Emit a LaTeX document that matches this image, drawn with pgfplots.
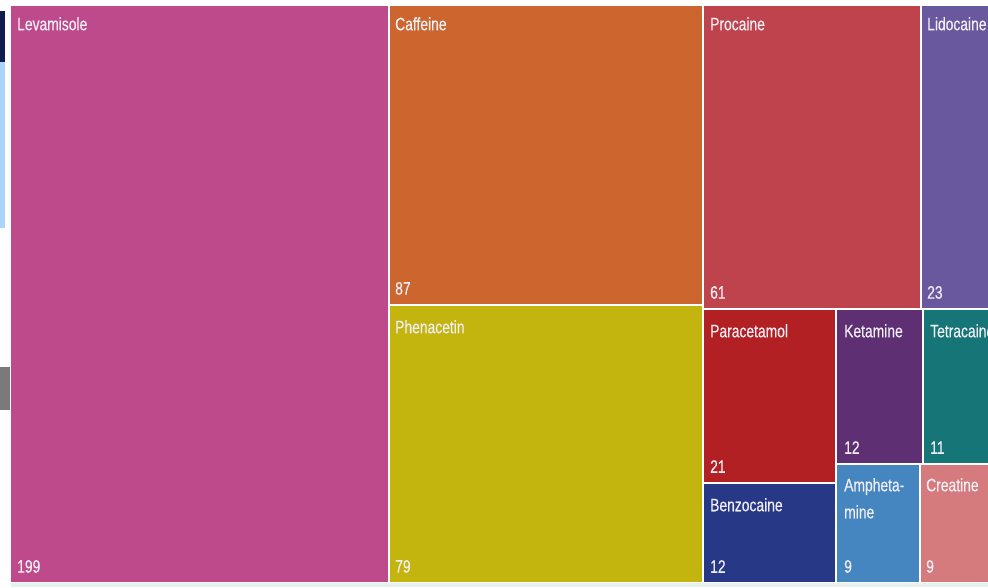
\documentclass[border=0pt]{standalone}
\usepackage{pgfplots}
\pgfplotsset{compat=1.18}
\usepackage{fontspec}
\setmainfont{Liberation Sans}[FakeStretch=0.77,FakeBold=0.4]
\definecolor{cLev}{RGB}{190,74,140}
\definecolor{cCaf}{RGB}{204,102,46}
\definecolor{cPhe}{RGB}{196,180,14}
\definecolor{cPro}{RGB}{191,67,77}
\definecolor{cLid}{RGB}{106,88,158}
\definecolor{cPar}{RGB}{178,32,36}
\definecolor{cBen}{RGB}{39,56,134}
\definecolor{cKet}{RGB}{94,48,115}
\definecolor{cTet}{RGB}{21,117,119}
\definecolor{cAmp}{RGB}{69,133,192}
\definecolor{cCre}{RGB}{213,123,126}
\definecolor{txt}{RGB}{240,238,245}
\definecolor{uiNavy}{RGB}{16,28,78}
\definecolor{uiBlue}{RGB}{170,212,248}
\definecolor{uiGray}{RGB}{122,122,122}
\definecolor{uiStrip}{RGB}{232,240,240}
\tikzset{lbl/.style={font=\fontsize{18}{27}\selectfont, text=txt, inner sep=0pt, align=left}}
\begin{document}
\begin{tikzpicture}
\path[use as bounding box] (0,0) rectangle (988pt,587pt);
\begin{axis}[
  at={(0,0)}, anchor=south west,
  scale only axis, width=988pt, height=587pt,
  xmin=0, xmax=988, ymin=0, ymax=587, y dir=reverse,
  hide axis, clip=false,
  every axis plot/.append style={draw=none},
]
% UI remnants at left edge
\addplot[fill=uiNavy] coordinates {(0,11) (5,11) (5,62) (0,62)} --cycle;
\addplot[fill=uiBlue] coordinates {(0,62) (5,62) (5,228) (0,228)} --cycle;
\addplot[fill=uiGray] coordinates {(0,367) (10,367) (10,410) (0,410)} --cycle;
\addplot[fill=uiStrip] coordinates {(11,583) (988,583) (988,587) (11,587)} --cycle;
% treemap tiles: (x0,y0) (x1,y0) (x1,y1) (x0,y1)
\addplot[fill=cLev] coordinates {(11,6) (388,6) (388,582) (11,582)} --cycle;   % Levamisole 199
\addplot[fill=cCaf] coordinates {(390,6) (702,6) (702,304) (390,304)} --cycle; % Caffeine 87
\addplot[fill=cPhe] coordinates {(390,306) (702,306) (702,582) (390,582)} --cycle; % Phenacetin 79
\addplot[fill=cPro] coordinates {(704,6) (920,6) (920,308) (704,308)} --cycle; % Procaine 61
\addplot[fill=cLid] coordinates {(922,6) (988,6) (988,308) (922,308)} --cycle; % Lidocaine 23
\addplot[fill=cPar] coordinates {(704,310) (835,310) (835,482) (704,482)} --cycle; % Paracetamol 21
\addplot[fill=cBen] coordinates {(704,484) (835,484) (835,582) (704,582)} --cycle; % Benzocaine 12
\addplot[fill=cKet] coordinates {(837,310) (922,310) (922,463) (837,463)} --cycle; % Ketamine 12
\addplot[fill=cTet] coordinates {(924,310) (988,310) (988,463) (924,463)} --cycle; % Tetracaine 11
\addplot[fill=cAmp] coordinates {(837,465) (919,465) (919,582) (837,582)} --cycle; % Amphetamine 9
\addplot[fill=cCre] coordinates {(921,465) (988,465) (988,582) (921,582)} --cycle; % Creatine 9
% labels
\node[lbl, anchor=north west] at (axis cs:17,17) {Levamisole};
\node[lbl, anchor=south west] at (axis cs:17,573) {199};
\node[lbl, anchor=north west] at (axis cs:395,17) {Caffeine};
\node[lbl, anchor=south west] at (axis cs:395,295) {87};
\node[lbl, anchor=north west] at (axis cs:395,320) {Phenacetin};
\node[lbl, anchor=south west] at (axis cs:395,573) {79};
\node[lbl, anchor=north west] at (axis cs:710,17) {Procaine};
\node[lbl, anchor=south west] at (axis cs:710,299) {61};
\node[lbl, anchor=north west] at (axis cs:927,17) {Lidocaine};
\node[lbl, anchor=south west] at (axis cs:927,299) {23};
\node[lbl, anchor=north west] at (axis cs:710,324) {Paracetamol};
\node[lbl, anchor=south west] at (axis cs:710,473) {21};
\node[lbl, anchor=north west] at (axis cs:710,498) {Benzocaine};
\node[lbl, anchor=south west] at (axis cs:710,573) {12};
\node[lbl, anchor=north west] at (axis cs:844,324) {Ketamine};
\node[lbl, anchor=south west] at (axis cs:844,454) {12};
\node[lbl, anchor=north west] at (axis cs:930,324) {Tetracaine};
\node[lbl, anchor=south west] at (axis cs:930,454) {11};
\node[lbl, anchor=north west] at (axis cs:844,478) {Ampheta-\\mine};
\node[lbl, anchor=south west] at (axis cs:844,573) {9};
\node[lbl, anchor=north west] at (axis cs:926,478) {Creatine};
\node[lbl, anchor=south west] at (axis cs:926,573) {9};
\end{axis}
\end{tikzpicture}
\end{document}
